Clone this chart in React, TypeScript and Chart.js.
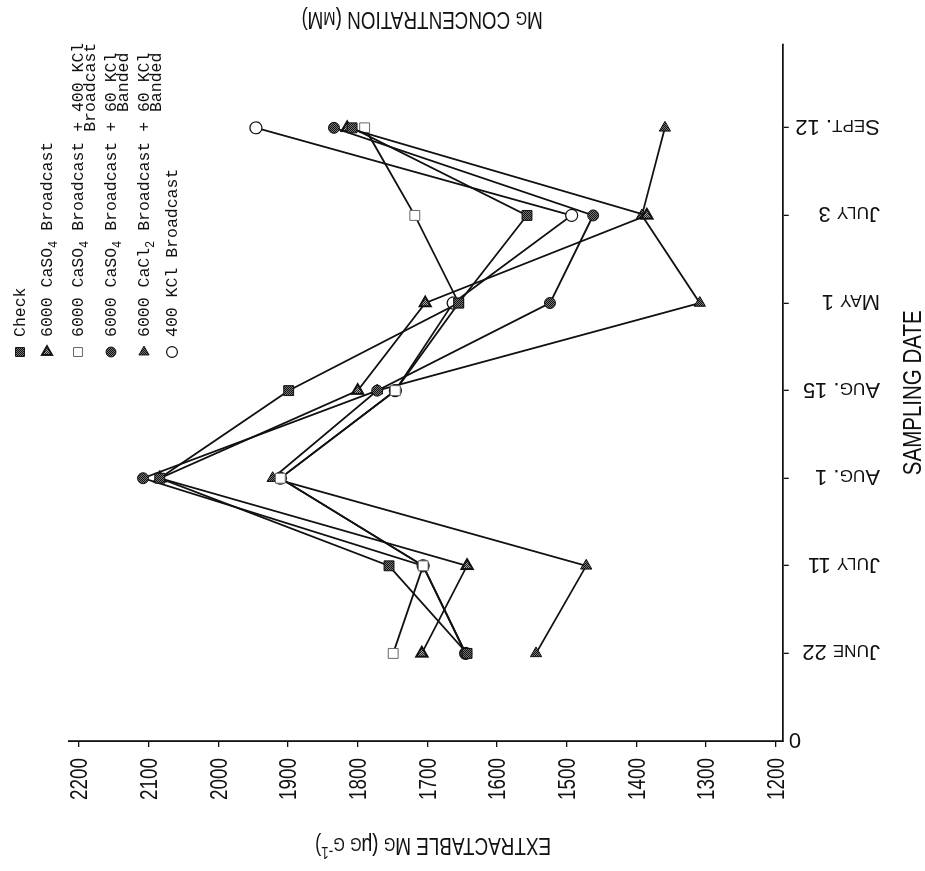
import React, { useEffect, useRef } from 'react';
import { Chart, registerables } from 'chart.js';
import { drawPoint } from 'chart.js/helpers';

Chart.register(...registerables);

// ---------- data ----------
const categories = ['June 22', 'July 11', 'Aug. 1', 'Aug. 15', 'May 1', 'July 3', 'Sept. 12'];
const originLabel = '0';
const valueTicks = [1200, 1300, 1400, 1500, 1600, 1700, 1800, 1900, 2000, 2100, 2200];

const check = [1643, 1755, 2084, 1899, 1655, 1557, 1808];
const caso4Broadcast = [1708, 1643, 2084, 1800, 1703, 1385, 1815];
const caso4Kcl400Broadcast = [1749, 1706, 1911, 1746, 1655, 1718, 1790];
const caso4Kcl60Banded = [1645, 1706, 2108, 1772, 1524, 1462, 1834];
const cacl2Kcl60Banded = [1544, 1472, 1922, 1772, 1309, 1392, 1359];
const kcl400Broadcast = [1645, 1706, 1911, 1746, 1663, 1493, 1946];

const seriesNames = [
  'Check',
  '6000 CaSO_4 Broadcast',
  '6000 CaSO_4 Broadcast + 400 KCl',
  '6000 CaSO_4 Broadcast + 60 KCl',
  '6000 CaCl_2 Broadcast + 60 KCl',
  '400 KCl Broadcast',
];
const seriesSecondLines = ['', '', 'Broadcast', 'Banded', 'Banded', ''];

const valueAxisTitle = 'EXTRACTABLE Mg (μg g^-1)';
const dateAxisTitle = 'SAMPLING DATE';
const rightTitle = 'Mg CONCENTRATION (mM)';

// ---------- text helpers ----------
const SANS = "'Liberation Sans', Arial, sans-serif";
const MONO = "'Liberation Mono', 'DejaVu Sans Mono', monospace";

type Seg = { t: string; s: number; dy: number };

function richSegs(text: string, size: number, smallCaps: boolean): Seg[] {
  const segs: Seg[] = [];
  const push = (t: string, s: number, dy: number) => {
    const l = segs[segs.length - 1];
    if (l && l.s === s && l.dy === dy) l.t += t;
    else segs.push({ t, s, dy });
  };
  let i = 0;
  while (i < text.length) {
    const ch = text[i];
    if (ch === '_' || ch === '^') {
      let j = i + 1;
      let run = '';
      while (j < text.length && /[-0-9]/.test(text[j])) {
        run += text[j];
        j++;
      }
      push(run, size * 0.72, ch === '_' ? size * 0.32 : -size * 0.42);
      i = j;
      continue;
    }
    if (smallCaps && /[a-z]/.test(ch)) push(ch.toUpperCase(), size * 0.78, 0);
    else push(ch, size, 0);
    i++;
  }
  return segs;
}

function segsWidth(ctx: CanvasRenderingContext2D, segs: Seg[], family: string) {
  let w = 0;
  for (const g of segs) {
    ctx.font = `${g.s}px ${family}`;
    w += ctx.measureText(g.t).width;
  }
  return w;
}

function drawRich(
  ctx: CanvasRenderingContext2D,
  segs: Seg[],
  x: number,
  y: number,
  align: 'left' | 'center' | 'right',
  family: string,
  sx: number
) {
  const w = segsWidth(ctx, segs, family) * sx;
  const start = align === 'left' ? x : align === 'right' ? x - w : x - w / 2;
  ctx.save();
  ctx.translate(start, y);
  ctx.scale(sx, 1);
  ctx.textAlign = 'left';
  ctx.textBaseline = 'alphabetic';
  let cx = 0;
  for (const g of segs) {
    ctx.font = `${g.s}px ${family}`;
    ctx.fillText(g.t, cx, g.dy);
    cx += ctx.measureText(g.t).width;
  }
  ctx.restore();
  return w;
}

function makePattern(dark: string, light: string) {
  const c = document.createElement('canvas');
  c.width = 2;
  c.height = 2;
  const g = c.getContext('2d')!;
  g.fillStyle = light;
  g.fillRect(0, 0, 2, 2);
  g.fillStyle = dark;
  g.fillRect(0, 0, 1, 1);
  g.fillRect(1, 1, 1, 1);
  return g.createPattern(c, 'repeat')!;
}

// legend rows (vertical positions in the unrotated chart)
const legendRows = [20, 47, 78, 111, 144, 172];

const textPlugin = {
  id: 'scanTexts',
  afterDraw(chart: any) {
    const ctx: CanvasRenderingContext2D = chart.ctx;
    const xs = chart.scales.x;
    const ys = chart.scales.y;
    const area = chart.chartArea;
    ctx.save();
    ctx.fillStyle = '#111';

    // value tick labels
    for (const v of valueTicks) {
      const size = 23;
      drawRich(ctx, richSegs(String(v), size, false), area.left - 17, ys.getPixelForValue(v) + 0.36 * size, 'right', SANS, 0.82);
    }

    // category labels (rotated)
    categories.forEach((c, i) => {
      const size = 22;
      const u = xs.getPixelForValue(i + 1);
      ctx.save();
      ctx.translate(u, 880);
      ctx.rotate(-Math.PI / 2);
      drawRich(ctx, richSegs(c, size, true), 0, 0.36 * size, 'left', SANS, 1);
      ctx.restore();
    });
    {
      const size = 22;
      ctx.save();
      ctx.translate(xs.getPixelForValue(0), 795);
      ctx.rotate(-Math.PI / 2);
      drawRich(ctx, richSegs(originLabel, size, false), 0, 0.36 * size, 'center', SANS, 1);
      ctx.restore();
    }

    // date axis title
    {
      const size = 25;
      drawRich(ctx, richSegs(dateAxisTitle, size, false), (area.left + area.right) / 2, 912 + 0.36 * size, 'center', SANS, 0.82);
    }

    // value axis title
    {
      const size = 23;
      ctx.save();
      ctx.translate(25, 433);
      ctx.rotate(-Math.PI / 2);
      drawRich(ctx, richSegs(valueAxisTitle, size, true), 0, 0.36 * size, 'center', SANS, 0.82);
      ctx.restore();
    }

    // right title
    {
      const size = 23;
      ctx.save();
      ctx.translate(851, 422);
      ctx.rotate(-Math.PI / 2);
      drawRich(ctx, richSegs(rightTitle, size, true), 0, 0.36 * size, 'center', SANS, 0.82);
      ctx.restore();
    }

    // legend
    chart.data.datasets.forEach((ds: any, i: number) => {
      const v = legendRows[i];
      ctx.save();
      ctx.fillStyle = ds.pointBackgroundColor;
      ctx.strokeStyle = ds.pointBorderColor;
      ctx.lineWidth = ds.pointBorderWidth;
      drawPoint(ctx, { pointStyle: ds.pointStyle, radius: ds.pointRadius * 0.9, rotation: ds.pointRotation || 0, borderWidth: ds.pointBorderWidth } as any, 519, v);
      ctx.restore();
      ctx.fillStyle = '#111';
      const size = 16.5;
      const w = drawRich(ctx, richSegs(seriesNames[i], size, false), 534, v + 0.3 * size, 'left', MONO, 1);
      if (seriesSecondLines[i]) {
        drawRich(ctx, richSegs(seriesSecondLines[i], size, false), 534 + w, v + 12 + 0.3 * size, 'right', MONO, 1);
      }
    });

    ctx.restore();
  },
};

function toPoints(vals: number[]) {
  return vals.map((y, i) => ({ x: i + 1, y }));
}

export default function App() {
  const ref = useRef<HTMLCanvasElement | null>(null);

  useEffect(() => {
    if (!ref.current) return;
    const darkPat = makePattern('#111', '#777');
    const midPat = makePattern('#222', '#aaa');
    const base = {
      borderColor: '#111',
      borderWidth: 1.8,
      tension: 0,
      fill: false,
      pointBorderColor: '#111',
    };
    const chart = new Chart(ref.current, {
      type: 'line',
      data: {
        datasets: [
          { ...base, label: 'Check', data: toPoints(check), pointStyle: 'rect', pointRadius: 7, pointBackgroundColor: darkPat, pointBorderWidth: 1 },
          { ...base, label: '6000 CaSO4 Broadcast', data: toPoints(caso4Broadcast), pointStyle: 'triangle', pointRadius: 6.5, pointRotation: 90, pointBackgroundColor: midPat, pointBorderWidth: 2 },
          { ...base, label: '6000 CaSO4 Broadcast + 400 KCl Broadcast', data: toPoints(caso4Kcl400Broadcast), pointStyle: 'rect', pointRadius: 7, pointBackgroundColor: '#fff', pointBorderColor: '#666', pointBorderWidth: 1 },
          { ...base, label: '6000 CaSO4 Broadcast + 60 KCl Banded', data: toPoints(caso4Kcl60Banded), pointStyle: 'circle', pointRadius: 5.5, pointBackgroundColor: darkPat, pointBorderWidth: 1 },
          { ...base, label: '6000 CaCl2 Broadcast + 60 KCl Banded', data: toPoints(cacl2Kcl60Banded), pointStyle: 'triangle', pointRadius: 6.5, pointRotation: 90, pointBackgroundColor: darkPat, pointBorderWidth: 1 },
          { ...base, label: '400 KCl Broadcast', data: toPoints(kcl400Broadcast), pointStyle: 'circle', pointRadius: 6, pointBackgroundColor: '#fff', pointBorderWidth: 1.2 },
        ] as any,
      },
      options: {
        animation: false,
        responsive: false,
        devicePixelRatio: 1,
        events: [],
        layout: { autoPadding: false, padding: { left: 70, right: 44.6, top: 68.5, bottom: 132.3 } },
        plugins: { legend: { display: false }, tooltip: { enabled: false }, title: { display: false } },
        scales: {
          x: {
            type: 'linear',
            min: 0,
            max: 7.95,
            position: 'bottom',
            ticks: { display: false },
            grid: { display: true, drawOnChartArea: false, drawTicks: true, tickLength: 6, color: '#111', lineWidth: 1.3 },
            border: { display: true, color: '#111', width: 1.8 },
            afterBuildTicks: (s: any) => {
              s.ticks = categories.map((_, i) => ({ value: i + 1 }));
            },
            afterFit: (s: any) => {
              s.height = 10;
            },
          },
          y: {
            type: 'linear',
            min: 1190,
            max: 2215,
            position: 'left',
            ticks: { display: false },
            grid: { display: true, drawOnChartArea: false, drawTicks: true, tickLength: 6, color: '#111', lineWidth: 1.3 },
            border: { display: true, color: '#111', width: 1.8 },
            afterBuildTicks: (s: any) => {
              s.ticks = valueTicks.map((v) => ({ value: v }));
            },
            afterFit: (s: any) => {
              s.width = 60;
            },
          },
        },
      } as any,
      plugins: [textPlugin as any],
    });
    return () => chart.destroy();
  }, []);

  return (
    <div
      style={{
        position: 'fixed',
        left: 0,
        top: 0,
        width: 871,
        height: 925,
        transformOrigin: '0 0',
        transform: 'translate(0px, 871px) rotate(-90deg)',
        background: '#fff',
      }}
    >
      <canvas ref={ref} width={871} height={925} style={{ display: 'block' }} />
    </div>
  );
}
